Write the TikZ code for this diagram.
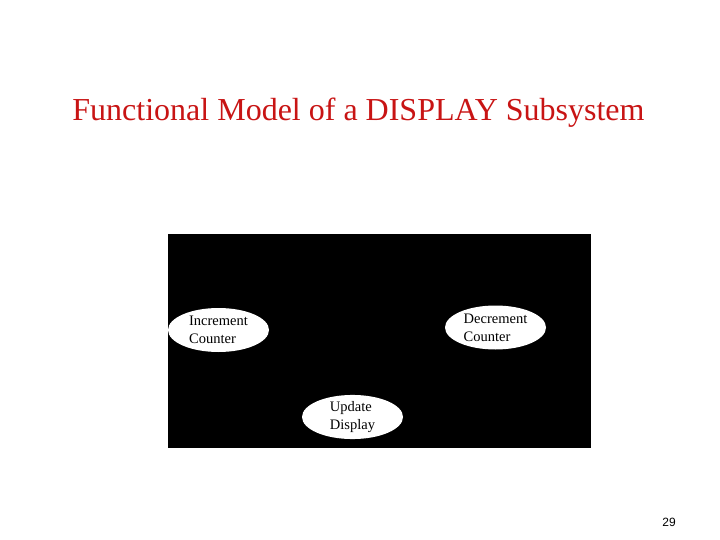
\documentclass[tikz,border=0pt]{standalone}
\usepackage{fontspec}
\setmainfont{Liberation Serif}
\newfontfamily\pagefont{Liberation Sans}
\usetikzlibrary{shapes.geometric}
\definecolor{titlered}{RGB}{200,20,20}

\begin{document}
\begin{tikzpicture}[x=1pt,y=-1pt,
	process/.style={ellipse,fill=white,minimum width=101pt,minimum height=44pt,
		inner sep=0pt,align=left,font=\fontsize{14.5}{18}\selectfont}]
	\useasboundingbox (0,0) rectangle (720,540);
	% title
	\node (title) at (358.5,113) {\fontsize{32}{36}\selectfont\color{titlered}Functional Model of a DISPLAY Subsystem};
	% background
	\fill[black] (168,234) rectangle (591,448);
	% processes
	\node[process] (inc) at (218.5,330) {Increment\\Counter};
	\node[process] (dec) at (495.5,327.5) {Decrement\\Counter};
	\node[process] (upd) at (352.5,417) {Update\\Display};
	% page number
	\node (page) at (669,522) {\pagefont\fontsize{12}{14}\selectfont 29};
\end{tikzpicture}
\end{document}
